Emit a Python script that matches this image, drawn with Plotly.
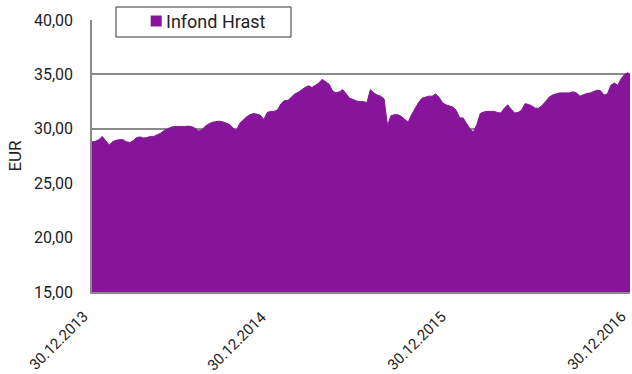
import pandas as pd
import plotly.graph_objects as go

# Weekly unit values of the fund (EUR), plus the closing value at year end 2016
week_dates = list(pd.date_range("2013-12-30", "2016-12-26", freq="7D"))
dates = week_dates + [pd.Timestamp("2016-12-30")]

values = [
    28.80, 28.85, 29.00, 29.30, 28.90, 28.50, 28.80, 28.95, 29.00, 29.00,
    28.80, 28.75, 28.90, 29.20, 29.25, 29.15, 29.20, 29.30, 29.30, 29.45,
    29.60, 29.85, 30.00, 30.15, 30.20, 30.20, 30.15, 30.20, 30.25, 30.20,
    30.05, 29.80, 29.90, 30.25, 30.45, 30.60, 30.65, 30.70, 30.65, 30.55,
    30.40, 30.10, 29.85, 30.50, 30.85, 31.10, 31.30, 31.40, 31.35, 31.25,
    30.85, 31.50, 31.60, 31.60, 31.75, 32.30, 32.60, 32.60, 32.90, 33.20,
    33.35, 33.60, 33.80, 33.95, 33.80, 34.00, 34.20, 34.55, 34.30, 34.10,
    33.50, 33.30, 33.40, 33.60, 33.20, 32.80, 32.70, 32.55, 32.50, 32.50,
    32.40, 33.60, 33.30, 33.10, 33.00, 32.75, 30.30, 31.20, 31.30, 31.30,
    31.15, 30.90, 30.60, 31.30, 31.90, 32.40, 32.80, 32.90, 33.00, 33.00,
    33.20, 32.90, 32.40, 32.20, 32.10, 32.00, 31.70, 31.00, 31.00, 30.50,
    30.00, 29.70, 30.40, 31.40, 31.55, 31.60, 31.60, 31.60, 31.50, 31.45,
    31.90, 32.20, 31.80, 31.45, 31.50, 31.70, 32.30, 32.25, 32.10, 31.90,
    31.90, 32.15, 32.50, 32.90, 33.10, 33.20, 33.30, 33.30, 33.30, 33.30,
    33.40, 33.30, 33.00, 33.15, 33.25, 33.30, 33.45, 33.55, 33.50, 33.10,
    33.20, 34.00, 34.20, 34.00, 34.60, 35.00, 35.15, 35.00,
]

tick_dates = ["2013-12-30", "2014-12-30", "2015-12-30", "2016-12-30"]
tick_labels = ["30.12.2013", "30.12.2014", "30.12.2015", "30.12.2016"]
y_ticks = [15, 20, 25, 30, 35, 40]

series_name = "Infond Hrast"
purple = "#86159B"
grid_grey = "#8a8a8a"
text_color = "#222222"
font_family = "Roboto, 'DejaVu Sans', sans-serif"

fig = go.Figure()
fig.add_trace(go.Scatter(
    x=dates,
    y=values,
    mode="lines",
    line=dict(color=purple, width=1),
    fill="tozeroy",
    fillcolor=purple,
    name=series_name,
    showlegend=False,
    hoverinfo="skip",
))

# Legend: white framed box, colour swatch and series name
fig.add_shape(
    type="rect", xref="paper", yref="paper",
    x0=0.0446, x1=0.3699, y0=0.9375, y1=1.0478,
    fillcolor="white", line=dict(color="#333333", width=1),
    layer="above",
)
fig.add_shape(
    type="rect", xref="paper", yref="paper",
    x0=0.1091, x1=0.1296, y0=0.9761, y1=1.0165,
    fillcolor=purple, line=dict(width=0),
    layer="above",
)
fig.add_annotation(
    xref="paper", yref="paper",
    x=0.1340, y=0.9945,
    xanchor="left", yanchor="middle",
    text=series_name,
    showarrow=False,
    font=dict(family=font_family, size=18, color=text_color),
)

# Slanted date labels under the x axis, one per tick date
for d, lab in zip(tick_dates, tick_labels):
    fig.add_annotation(
        x=d, xref="x", y=0, yref="paper",
        xanchor="right", yanchor="top",
        text=lab, textangle=-45, showarrow=False,
        xshift=2, yshift=-13,
        font=dict(family=font_family, size=15, color=text_color),
    )

fig.update_layout(
    width=632, height=374,
    margin=dict(l=92, r=2, t=20, b=82),
    paper_bgcolor="white",
    plot_bgcolor="white",
    separators=",.",
    font=dict(family=font_family, size=15, color=text_color),
    xaxis=dict(
        type="date",
        range=["2013-12-30", "2016-12-30"],
        showticklabels=False,
        showgrid=False,
        showline=True,
        linecolor=grid_grey,
        linewidth=1.5,
        ticks="",
        automargin=False,
    ),
    yaxis=dict(
        range=[15, 40],
        tickmode="array",
        tickvals=y_ticks,
        tickformat=".2f",
        showgrid=True,
        gridcolor=grid_grey,
        gridwidth=1.5,
        showline=True,
        linecolor=grid_grey,
        linewidth=1.5,
        zeroline=False,
        ticks="",
        ticklabelstandoff=14,
        automargin=False,
        title=dict(text="EUR", standoff=8, font=dict(family=font_family, size=17, color=text_color)),
        tickfont=dict(family=font_family, size=16, color=text_color),
    ),
)

fig.write_html("out.html")
